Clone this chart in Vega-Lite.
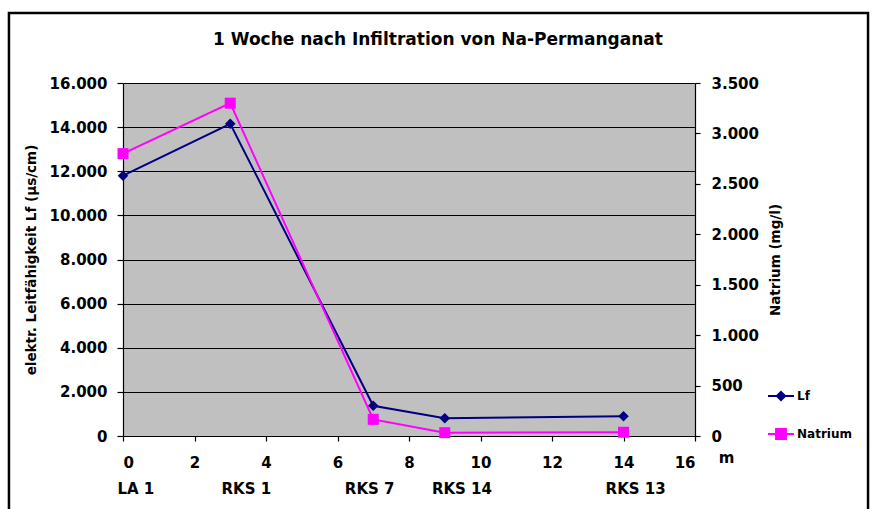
{
  "$schema": "https://vega.github.io/schema/vega-lite/v6.json",
  "width": 572,
  "height": 353,
  "autosize": {"type": "none"},
  "padding": {"left": 123, "top": 83, "right": 180, "bottom": 73},
  "background": "white",
  "title": {
    "text": "1 Woche nach Infiltration von Na-Permanganat",
    "font": "DejaVu Sans",
    "fontSize": 17,
    "fontWeight": "bold",
    "color": "black",
    "anchor": "middle",
    "frame": "group",
    "dx": 29,
    "dy": 37,
    "offset": 0
  },
  "config": {
    "view": {"stroke": null, "fill": "#C0C0C0"},
    "font": "DejaVu Sans",
    "locale": {"number": {"decimal": ",", "thousands": ".", "grouping": [3], "currency": ["", " €"]}},
    "axis": {
      "labelFont": "DejaVu Sans",
      "labelFontSize": 15,
      "labelFontWeight": "bold",
      "labelColor": "black",
      "titleFont": "DejaVu Sans",
      "titleFontWeight": "bold",
      "titleColor": "black",
      "domainColor": "black",
      "tickColor": "black",
      "domainWidth": 1.2,
      "tickWidth": 1.2
    }
  },
  "datasets": {
    "series": [
      {"series": "Lf", "x": 0, "value": 11800},
      {"series": "Lf", "x": 3, "value": 14150},
      {"series": "Lf", "x": 7, "value": 1370},
      {"series": "Lf", "x": 9, "value": 800},
      {"series": "Lf", "x": 14, "value": 900},
      {"series": "Natrium", "x": 0, "value": 2800},
      {"series": "Natrium", "x": 3, "value": 3300},
      {"series": "Natrium", "x": 7, "value": 165},
      {"series": "Natrium", "x": 9, "value": 33},
      {"series": "Natrium", "x": 14, "value": 37}
    ],
    "wells": [
      {"label": "LA 1", "x": 0.36},
      {"label": "RKS 1", "x": 3.45},
      {"label": "RKS 7", "x": 6.9},
      {"label": "RKS 14", "x": 9.48},
      {"label": "RKS 13", "x": 14.34}
    ]
  },
  "layer": [
    {
      "layer": [
        {
          "data": {"values": [{}]},
          "mark": {"type": "rect", "filled": false, "stroke": "black", "strokeWidth": 2.5},
          "encoding": {
            "x": {"datum": -3.19, "type": "quantitative", "scale": {"domain": [0, 16]}},
            "x2": {"datum": 20.84},
            "y": {"datum": 19173, "type": "quantitative", "scale": {"domain": [0, 16000]}},
            "y2": {"datum": -4000}
          }
        },
        {
          "data": {"name": "series"},
          "transform": [{"filter": "datum.series === 'Lf'"}],
          "mark": {"type": "line", "strokeWidth": 2},
          "encoding": {
            "x": {
              "field": "x", "type": "quantitative",
              "scale": {"domain": [0, 16], "nice": false},
              "axis": {
                "values": [0, 2, 4, 6, 8, 10, 12, 14, 16],
                "format": "d",
                "grid": false,
                "tickSize": 5,
                "labelPadding": 14,
                "title": "m",
                "titleFontSize": 15,
                "titleX": 603,
                "titleY": 21,
                "titleAlign": "center",
                "titleBaseline": "middle"
              }
            },
            "y": {
              "field": "value", "type": "quantitative",
              "scale": {"domain": [0, 16000], "nice": false},
              "axis": {
                "orient": "left",
                "values": [0, 2000, 4000, 6000, 8000, 10000, 12000, 14000, 16000],
                "format": ",d",
                "grid": true,
                "gridColor": "black",
                "gridWidth": 1,
                "tickSize": 6,
                "labelPadding": 10,
                "title": "elektr. Leitfähigkeit Lf (µs/cm)",
                "titleFontSize": 13.5,
                "titlePadding": 11
              }
            },
            "color": {
              "field": "series", "type": "nominal",
              "scale": {"domain": ["Lf", "Natrium"], "range": ["#000080", "#FF00FF"]},
              "legend": {
                "orient": "none",
                "legendX": 644,
                "legendY": 299,
                "title": null,
                "padding": 0,
                "symbolSize": 676,
                "symbolStrokeWidth": 2,
                "rowPadding": 15,
                "labelOffset": 2,
                "labelFont": "DejaVu Sans",
                "labelFontSize": 12,
                "labelFontWeight": "bold",
                "labelColor": "black",
                "encode": {
                  "symbols": {
                    "update": {
                      "shape": {"signal": "datum.value === 'Lf' ? 'M-1,0H1M0,-0.32L0.32,0L0,0.32L-0.32,0Z' : 'M-1,0H1M-0.38,-0.38H0.38V0.38H-0.38Z'"},
                      "fill": {"scale": "color", "field": "value"},
                      "stroke": {"scale": "color", "field": "value"},
                      "strokeWidth": {"value": 2},
                      "opacity": {"value": 1}
                    }
                  }
                }
              }
            }
          }
        },
        {
          "data": {"name": "series"},
          "transform": [{"filter": "datum.series === 'Lf'"}],
          "mark": {"type": "point", "shape": "diamond", "filled": true, "size": 110, "opacity": 1},
          "encoding": {
            "x": {"field": "x", "type": "quantitative"},
            "y": {"field": "value", "type": "quantitative"},
            "color": {"field": "series", "type": "nominal"}
          }
        },
        {
          "data": {"name": "wells"},
          "mark": {"type": "text", "font": "DejaVu Sans", "fontSize": 15, "fontWeight": "bold", "color": "black", "align": "center", "baseline": "middle"},
          "encoding": {
            "x": {"field": "x", "type": "quantitative"},
            "y": {"datum": -2402, "type": "quantitative"},
            "text": {"field": "label"}
          }
        }
      ]
    },
    {
      "layer": [
        {
          "data": {"name": "series"},
          "transform": [{"filter": "datum.series === 'Natrium'"}],
          "mark": {"type": "line", "strokeWidth": 2},
          "encoding": {
            "x": {"field": "x", "type": "quantitative"},
            "y": {
              "field": "value", "type": "quantitative",
              "scale": {"domain": [0, 3500], "nice": false},
              "axis": {
                "orient": "right",
                "values": [0, 500, 1000, 1500, 2000, 2500, 3000, 3500],
                "format": ",d",
                "grid": false,
                "tickSize": 5,
                "labelPadding": 11,
                "title": "Natrium (mg/l)",
                "titleFontSize": 13.5,
                "titleAngle": 270,
                "titlePadding": 24
              }
            },
            "color": {"field": "series", "type": "nominal"}
          }
        },
        {
          "data": {"name": "series"},
          "transform": [{"filter": "datum.series === 'Natrium'"}],
          "mark": {"type": "point", "shape": "square", "filled": true, "size": 121, "opacity": 1},
          "encoding": {
            "x": {"field": "x", "type": "quantitative"},
            "y": {"field": "value", "type": "quantitative"},
            "color": {"field": "series", "type": "nominal"}
          }
        }
      ]
    }
  ],
  "resolve": {"scale": {"y": "independent"}}
}
